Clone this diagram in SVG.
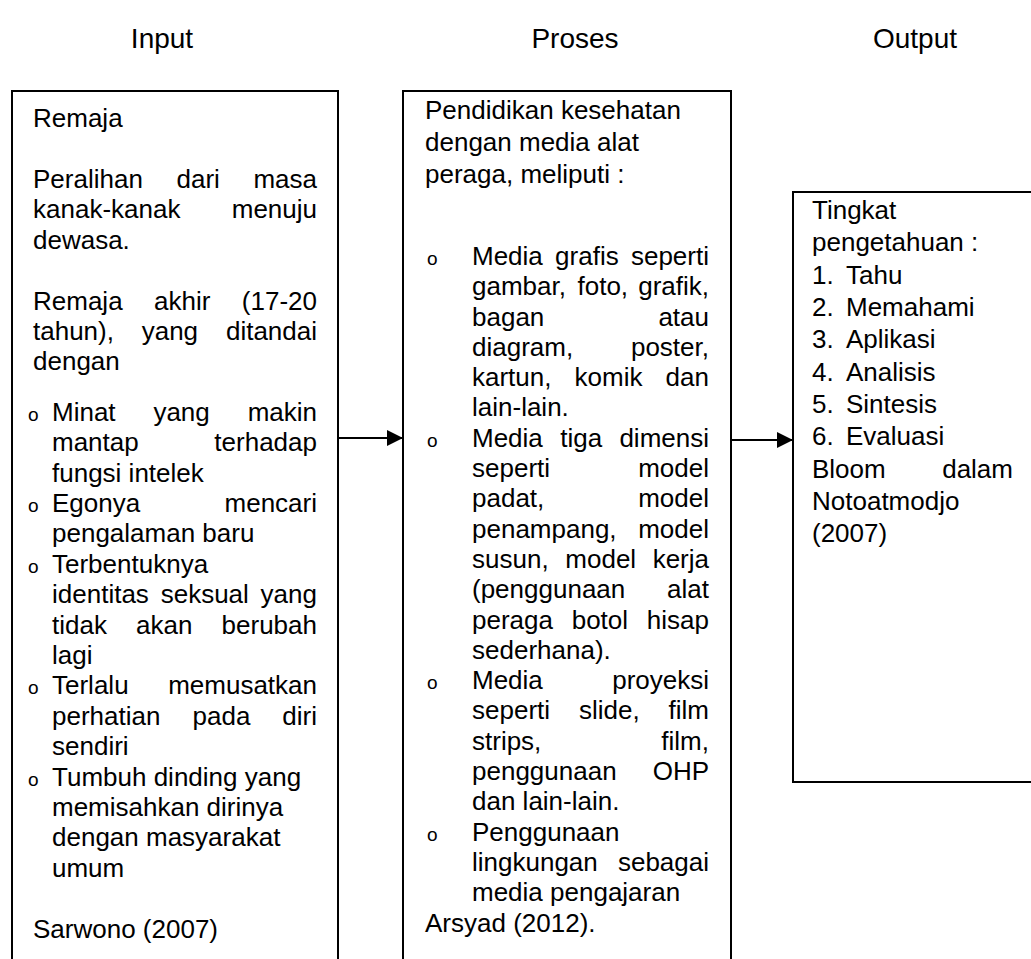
<svg xmlns="http://www.w3.org/2000/svg" width="1031" height="959" viewBox="0 0 1031 959">
<style>
.t{font-family:"Liberation Sans",Arial,sans-serif;font-size:26px;fill:#000}
.h{font-family:"Liberation Sans",Arial,sans-serif;font-size:28px;fill:#000;text-anchor:middle}
.e{text-anchor:end}
.b{font-family:"Liberation Sans",Arial,sans-serif;font-size:19px;fill:#000}
.box{fill:#fff;stroke:#000;stroke-width:2}
.ln{stroke:#000;stroke-width:2;fill:none}
</style>
<defs>
<marker id="ah" markerWidth="16" markerHeight="16" refX="16" refY="8" orient="auto" markerUnits="userSpaceOnUse">
<path d="M0,0 L16,8 L0,16 Z" fill="#000"/>
</marker>
</defs>
<rect width="1031" height="959" fill="#fff"/>
<g id="headers">
<text class="h" x="162" y="48">Input</text>
<text class="h" x="575" y="48">Proses</text>
<text class="h" x="915" y="48">Output</text>
</g>
<g id="input">
<rect class="box" x="12" y="91" width="326" height="880"/>
<text class="t" x="33" y="127">Remaja</text>
<text class="t" x="33" y="188">Peralihan</text><text class="t" x="176.5" y="188">dari</text><text class="t e" x="317" y="188">masa</text>
<text class="t" x="33" y="218">kanak-kanak</text><text class="t e" x="317" y="218">menuju</text>
<text class="t" x="33" y="249">dewasa.</text>
<text class="t" x="33" y="310">Remaja</text><text class="t" x="154.1" y="310">akhir</text><text class="t e" x="317" y="310">(17-20</text>
<text class="t" x="33" y="340">tahun),</text><text class="t" x="141.7" y="340">yang</text><text class="t e" x="317" y="340">ditandai</text>
<text class="t" x="33" y="370">dengan</text>
<text class="b" x="28" y="421">o</text>
<text class="t" x="52" y="421">Minat</text><text class="t" x="153.4" y="421">yang</text><text class="t e" x="317" y="421">makin</text>
<text class="t" x="52" y="451">mantap</text><text class="t e" x="317" y="451">terhadap</text>
<text class="t" x="52" y="482">fungsi intelek</text>
<text class="b" x="28" y="512">o</text>
<text class="t" x="52" y="512">Egonya</text><text class="t e" x="317" y="512">mencari</text>
<text class="t" x="52" y="542">pengalaman baru</text>
<text class="b" x="28" y="573">o</text>
<text class="t" x="52" y="573">Terbentuknya</text>
<text class="t" x="52" y="603">identitas</text><text class="t" x="160.7" y="603">seksual</text><text class="t e" x="317" y="603">yang</text>
<text class="t" x="52" y="634">tidak</text><text class="t" x="136" y="634">akan</text><text class="t e" x="317" y="634">berubah</text>
<text class="t" x="52" y="664">lagi</text>
<text class="b" x="28" y="694">o</text>
<text class="t" x="52" y="694">Terlalu</text><text class="t e" x="317" y="694">memusatkan</text>
<text class="t" x="52" y="725">perhatian</text><text class="t" x="192.5" y="725">pada</text><text class="t e" x="317" y="725">diri</text>
<text class="t" x="52" y="755">sendiri</text>
<text class="b" x="28" y="786">o</text>
<text class="t" x="52" y="786">Tumbuh dinding yang</text>
<text class="t" x="52" y="816">memisahkan dirinya</text>
<text class="t" x="52" y="846">dengan masyarakat</text>
<text class="t" x="52" y="877">umum</text>
<text class="t" x="33" y="938">Sarwono (2007)</text>
</g>
<g id="proses">
<rect class="box" x="403" y="91" width="328" height="880"/>
<text class="t" x="425" y="119">Pendidikan kesehatan</text>
<text class="t" x="425" y="151">dengan media alat</text>
<text class="t" x="425" y="183">peraga, meliputi :</text>
<text class="b" x="427" y="265">o</text>
<text class="t" x="472" y="265">Media</text><text class="t" x="555.1" y="265">grafis</text><text class="t e" x="709" y="265">seperti</text>
<text class="t" x="472" y="295">gambar,</text><text class="t" x="577.5" y="295">foto,</text><text class="t e" x="709" y="295">grafik,</text>
<text class="t" x="472" y="326">bagan</text><text class="t e" x="709" y="326">atau</text>
<text class="t" x="472" y="356">diagram,</text><text class="t e" x="709" y="356">poster,</text>
<text class="t" x="472" y="386">kartun,</text><text class="t" x="574.6" y="386">komik</text><text class="t e" x="709" y="386">dan</text>
<text class="t" x="472" y="416">lain-lain.</text>
<text class="b" x="427" y="447">o</text>
<text class="t" x="472" y="447">Media</text><text class="t" x="560.2" y="447">tiga</text><text class="t e" x="709" y="447">dimensi</text>
<text class="t" x="472" y="477">seperti</text><text class="t e" x="709" y="477">model</text>
<text class="t" x="472" y="507">padat,</text><text class="t e" x="709" y="507">model</text>
<text class="t" x="472" y="538">penampang,</text><text class="t e" x="709" y="538">model</text>
<text class="t" x="472" y="568">susun,</text><text class="t" x="565.3" y="568">model</text><text class="t e" x="709" y="568">kerja</text>
<text class="t" x="472" y="598">(penggunaan</text><text class="t e" x="709" y="598">alat</text>
<text class="t" x="472" y="629">peraga</text><text class="t" x="571.7" y="629">botol</text><text class="t e" x="709" y="629">hisap</text>
<text class="t" x="472" y="659">sederhana).</text>
<text class="b" x="427" y="689">o</text>
<text class="t" x="472" y="689">Media</text><text class="t e" x="709" y="689">proyeksi</text>
<text class="t" x="472" y="719">seperti</text><text class="t" x="579" y="719">slide,</text><text class="t e" x="709" y="719">film</text>
<text class="t" x="472" y="750">strips,</text><text class="t e" x="709" y="750">film,</text>
<text class="t" x="472" y="780">penggunaan</text><text class="t e" x="709" y="780">OHP</text>
<text class="t" x="472" y="810">dan lain-lain.</text>
<text class="b" x="427" y="841">o</text>
<text class="t" x="472" y="841">Penggunaan</text>
<text class="t" x="472" y="871">lingkungan</text><text class="t e" x="709" y="871">sebagai</text>
<text class="t" x="472" y="901">media pengajaran</text>
<text class="t" x="425" y="932">Arsyad (2012).</text>
</g>
<g id="output">
<rect class="box" x="793" y="192" width="250" height="590"/>
<text class="t" x="812" y="219">Tingkat</text>
<text class="t" x="812" y="251">pengetahuan :</text>
<text class="t" x="812" y="284">1.</text><text class="t" x="846" y="284">Tahu</text>
<text class="t" x="812" y="316">2.</text><text class="t" x="846" y="316">Memahami</text>
<text class="t" x="812" y="348">3.</text><text class="t" x="846" y="348">Aplikasi</text>
<text class="t" x="812" y="381">4.</text><text class="t" x="846" y="381">Analisis</text>
<text class="t" x="812" y="413">5.</text><text class="t" x="846" y="413">Sintesis</text>
<text class="t" x="812" y="445">6.</text><text class="t" x="846" y="445">Evaluasi</text>
<text class="t" x="812" y="478">Bloom</text><text class="t e" x="1013" y="478">dalam</text>
<text class="t" x="812" y="510">Notoatmodjo</text>
<text class="t" x="812" y="542">(2007)</text>
</g>
<g id="connectors">
<line class="ln" x1="338" y1="438" x2="403" y2="438" marker-end="url(#ah)"/>
<line class="ln" x1="731" y1="440" x2="793" y2="440" marker-end="url(#ah)"/>
</g>
</svg>
